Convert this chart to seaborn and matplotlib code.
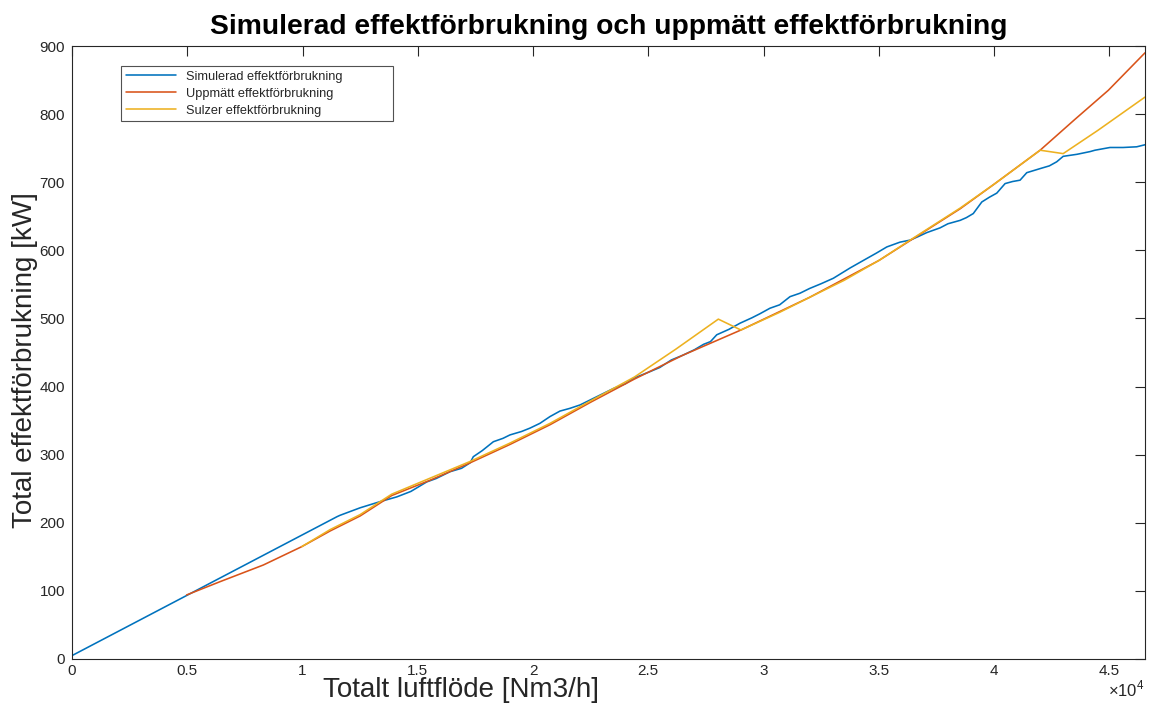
import numpy as np
import pandas as pd
import matplotlib
matplotlib.use("Agg")
import matplotlib.pyplot as plt
from matplotlib.ticker import FuncFormatter
import seaborn as sns

# ---- data (x in Nm3/h, y in kW) ----
sim_x = [0, 11500, 11630, 12500, 13360, 14090, 14700, 15390, 15800, 16400, 16900, 17270,
         17410, 17800, 18280, 18700, 19000, 19500, 19870, 20300, 20740, 21170, 21600, 22040,
         22760, 23480, 24000, 24350, 25080, 25500, 26000, 26500, 27000, 27400, 27700, 27970,
         28500, 28980, 29500, 29850, 30280, 30700, 31150, 31580, 32000, 32500, 33030, 33750,
         34480, 34900, 35350, 35920, 36360, 36700, 37080, 37660, 38000, 38530, 38800, 39100,
         39470, 39800, 40120, 40480, 40800, 41130, 41420, 42000, 42400, 42720, 43000, 43600,
         44170, 44380, 45030, 45600, 46190, 46550]
sim_y = [5, 209, 211, 222, 231, 238, 246, 260, 265, 275, 280, 288,
         297, 306, 319, 324, 329, 334, 339, 346, 356, 364, 368, 373,
         385, 397, 404, 412, 422, 428, 439, 446, 454, 462, 466, 476,
         484, 493, 501, 507, 515, 520, 532, 537, 544, 551, 559, 574,
         588, 596, 605, 612, 615, 620, 626, 633, 639, 644, 648, 654,
         671, 678, 684, 698, 701, 703, 714, 720, 724, 730, 738, 741,
         745, 747, 751, 751, 752, 755]

meas_x = [4970, 6420, 8300, 9970, 11200, 12500, 13870, 15500, 17270, 19000, 20740, 22500,
          24400, 26500, 29020, 32000, 35000, 38530, 40000, 42000, 43500, 44960, 46550]
meas_y = [94, 113.5, 138, 165, 188, 210, 240, 262, 288, 315, 344, 377,
          411, 446, 483, 531, 585, 661, 697, 747, 792, 835, 890]

sulz_x = [9970, 11200, 12500, 13870, 15500, 17270, 19000, 20740, 22500, 24400, 26200, 28040,
          29020, 30700, 32000, 33500, 35050, 36360, 38530, 40000, 42000, 43000, 44500, 46550]
sulz_y = [165, 190, 212, 242, 265, 290, 317, 346, 379, 414, 455, 499,
          483, 509, 531, 556, 586, 615, 662, 697, 747, 742, 776, 825]

labels = ["Simulerad effektförbrukning", "Uppmätt effektförbrukning", "Sulzer effektförbrukning"]
colors = ["#0072BD", "#D95319", "#EDB120"]
x_ticks = [0, 5000, 10000, 15000, 20000, 25000, 30000, 35000, 40000, 45000]
y_ticks = [0, 100, 200, 300, 400, 500, 600, 700, 800, 900]

sns.set_theme(style="white")
plt.rcParams["font.family"] = ["Liberation Sans", "DejaVu Sans"]
plt.rcParams["mathtext.fontset"] = "custom"
plt.rcParams["mathtext.rm"] = "Liberation Sans"

fig = plt.figure(figsize=(11.49, 7.06), dpi=100)
ax = fig.add_axes([72 / 1149, 47 / 706, (1145 - 72) / 1149, (659 - 46) / 706])

series = [(sim_x, sim_y), (meas_x, meas_y), (sulz_x, sulz_y)]
for (xs, ys), lab, col in zip(series, labels, colors):
    df = pd.DataFrame({"x": xs, "y": ys})
    sns.lineplot(data=df, x="x", y="y", ax=ax, sort=False, estimator=None,
                 color=col, linewidth=1.15, label=lab)

ax.set_xlim(0, 46550)
ax.set_ylim(0, 900)
ax.set_xticks(x_ticks)
ax.set_yticks(y_ticks)
ax.xaxis.set_major_formatter(FuncFormatter(lambda v, p: f"{v / 1e4:g}"))
ax.tick_params(direction="in", length=7, width=0.8, colors="#262626",
               labelsize=11, top=True, right=True, pad=5)
ax.tick_params(axis="x", pad=3.5)
for s in ax.spines.values():
    s.set_visible(True)
    s.set_color("#262626")
    s.set_linewidth(0.8)

ax.set_xlabel("Totalt luftflöde [Nm3/h]", fontsize=20, color="#262626")
ax.xaxis.set_label_coords(0.363, -0.029)
ax.set_ylabel("Total effektförbrukning [kW]", fontsize=20, color="#262626")
ax.yaxis.set_label_coords(-0.032, 0.487)
ax.set_title("Simulerad effektförbrukning och uppmätt effektförbrukning",
             fontsize=20.3, fontweight="bold", color="black", pad=9)

ax.text(1.0, -0.032, r"$\times10^{4}$", transform=ax.transAxes, ha="right", va="top",
        fontsize=12, color="#262626")

leg = ax.legend(loc="upper left", bbox_to_anchor=(0.0457, 0.9674, 0.2535, 0.0), mode="expand",
                fontsize=9.2, frameon=True, fancybox=False, handlelength=3.9, labelspacing=0.38,
                borderpad=0.38, handletextpad=0.8, borderaxespad=0)
leg.get_frame().set_edgecolor("#262626")
leg.get_frame().set_linewidth(0.8)

fig.savefig("out.png", dpi=100)
